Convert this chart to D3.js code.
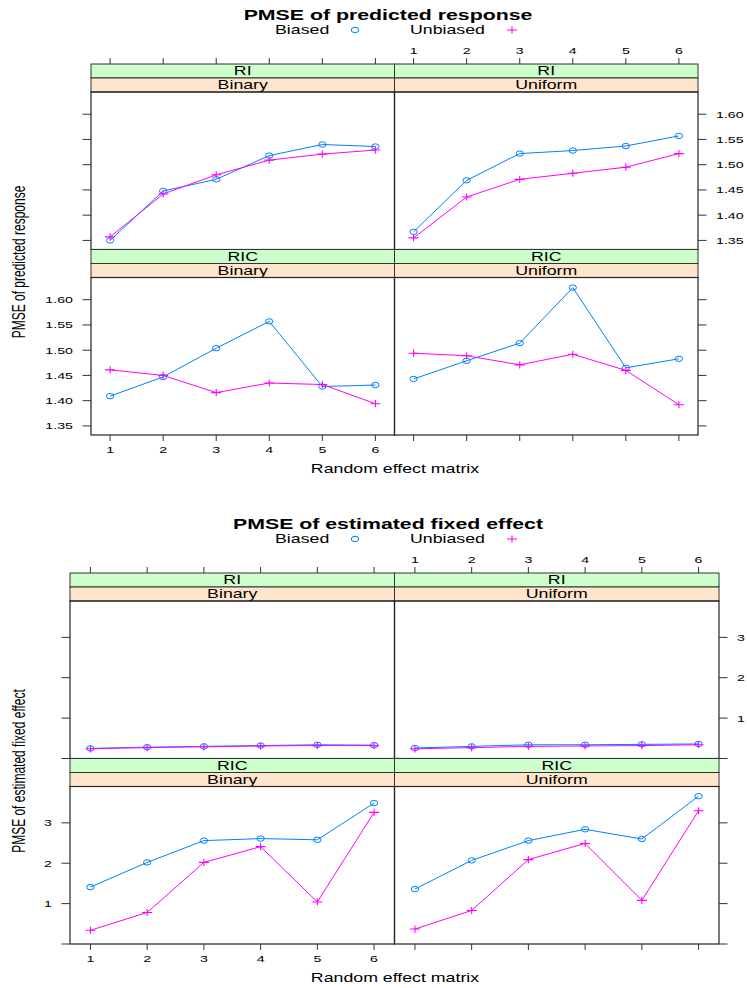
<!DOCTYPE html>
<html>
<head>
<meta charset="utf-8">
<script src="https://cdn.jsdelivr.net/npm/d3@7"></script>
<style>
  html, body { margin: 0; padding: 0; background: #fff; }
  svg { display: block; }
  text { font-family: "Liberation Sans", Arial, Helvetica, sans-serif; fill: #000; }
</style>
</head>
<body>
<svg id="chart" width="747" height="988"></svg>
<script>
// ---------- data ----------
const categories = [1, 2, 3, 4, 5, 6];
const seriesNames = ["Biased", "Unbiased"];
const outerLevels = ["RI", "RIC"];        // rows (top to bottom)
const innerLevels = ["Binary", "Uniform"]; // columns (left to right)

// PMSE of predicted response
const respRIBinaryBiased     = [1.350, 1.448, 1.471, 1.518, 1.540, 1.536];
const respRIBinaryUnbiased   = [1.357, 1.442, 1.480, 1.509, 1.521, 1.529];
const respRIUniformBiased    = [1.367, 1.469, 1.522, 1.528, 1.537, 1.557];
const respRIUniformUnbiased  = [1.355, 1.436, 1.471, 1.483, 1.495, 1.522];
const respRICBinaryBiased    = [1.409, 1.447, 1.504, 1.557, 1.428, 1.431];
const respRICBinaryUnbiased  = [1.461, 1.450, 1.416, 1.435, 1.432, 1.394];
const respRICUniformBiased   = [1.443, 1.479, 1.514, 1.624, 1.465, 1.483];
const respRICUniformUnbiased = [1.494, 1.489, 1.471, 1.492, 1.460, 1.392];
const respYTicks = [1.35, 1.40, 1.45, 1.50, 1.55, 1.60];
const respYTickLabels = ["1.35", "1.40", "1.45", "1.50", "1.55", "1.60"];

// PMSE of estimated fixed effect
const fixRIBinaryBiased     = [0.25, 0.28, 0.30, 0.32, 0.34, 0.33];
const fixRIBinaryUnbiased   = [0.24, 0.27, 0.29, 0.31, 0.32, 0.32];
const fixRIUniformBiased    = [0.26, 0.30, 0.34, 0.34, 0.35, 0.36];
const fixRIUniformUnbiased  = [0.24, 0.27, 0.30, 0.31, 0.32, 0.34];
const fixRICBinaryBiased    = [1.41, 2.02, 2.56, 2.61, 2.58, 3.49];
const fixRICBinaryUnbiased  = [0.34, 0.78, 2.02, 2.41, 1.04, 3.26];
const fixRICUniformBiased   = [1.36, 2.07, 2.56, 2.84, 2.60, 3.66];
const fixRICUniformUnbiased = [0.37, 0.83, 2.09, 2.49, 1.08, 3.30];
const fixYTicks = [0, 1, 2, 3];
const fixYTickLabels = ["", "1", "2", "3"];

const xTickLabels = ["1", "2", "3", "4", "5", "6"];

// ---------- drawing ----------
const SX = 1.48; // horizontal stretch of the glyphs, as in the reference
const colors = { Biased: "#0080ff", Unbiased: "#ff00ff" };
const svg = d3.select("#chart");

function txt(g, x, y, s, size, anchor, weight) {
  return g.append("text")
    .attr("transform", `translate(${x},${y}) scale(${SX},1)`)
    .attr("text-anchor", anchor || "middle")
    .attr("font-size", size)
    .attr("font-weight", weight || "normal")
    .text(s);
}

function drawMarker(g, name, x, y) {
  if (name === "Biased") {
    g.append("ellipse").attr("cx", x).attr("cy", y).attr("rx", 3.7).attr("ry", 2.7)
      .attr("fill", "none").attr("stroke", colors.Biased).attr("stroke-width", 1);
  } else {
    g.append("path").attr("d", `M${x - 5},${y}H${x + 5}M${x},${y - 3.6}V${y + 3.6}`)
      .attr("fill", "none").attr("stroke", colors.Unbiased).attr("stroke-width", 1.1);
  }
}

function drawChart(cfg) {
  const g = svg.append("g");
  const T = cfg.top, L = cfg.left, R = cfg.right, M = (L + R) / 2;
  const stripH = 14, panelH = 157.5;
  const cols = [[L, M], [M, R]];
  const rowGeom = outerLevels.map((_, r) => {
    const st = T + r * (2 * stripH + panelH);
    return { stripTop: st, pTop: st + 2 * stripH, pBot: st + 2 * stripH + panelH };
  });

  // title & legend
  txt(g, 388, T - 44, cfg.title, 14.4, "middle", "bold");
  txt(g, 275, T - 30, seriesNames[0], 12, "start");
  drawMarker(g, seriesNames[0], 355, T - 34);
  txt(g, 410, T - 30, seriesNames[1], 12, "start");
  drawMarker(g, seriesNames[1], 512, T - 34);

  outerLevels.forEach((outer, r) => {
    const rg = rowGeom[r];
    const y = d3.scaleLinear().domain(cfg.yDomain).range([rg.pBot, rg.pTop]);
    innerLevels.forEach((inner, c) => {
      const [cl, cr] = cols[c];
      const x = d3.scaleLinear().domain([0.64, 6.36]).range([cl, cr]);
      const cx = (cl + cr) / 2;
      // strips
      g.append("rect").attr("x", cl).attr("y", rg.stripTop).attr("width", cr - cl).attr("height", stripH)
        .attr("fill", "#ccffcc").attr("stroke", "#333").attr("stroke-width", 1);
      g.append("rect").attr("x", cl).attr("y", rg.stripTop + stripH).attr("width", cr - cl).attr("height", stripH)
        .attr("fill", "#ffe5cc").attr("stroke", "#333").attr("stroke-width", 1);
      txt(g, cx, rg.stripTop + 7 + 4.3, outer, 12);
      txt(g, cx, rg.stripTop + stripH + 7 + 4.3, inner, 12);
      // panel box
      g.append("rect").attr("x", cl).attr("y", rg.pTop).attr("width", cr - cl).attr("height", panelH)
        .attr("fill", "none").attr("stroke", "#222").attr("stroke-width", 1.2);

      // series
      const clipId = `clip-${cfg.id}-${r}-${c}`;
      g.append("clipPath").attr("id", clipId).append("rect")
        .attr("x", cl).attr("y", rg.pTop).attr("width", cr - cl).attr("height", panelH);
      const pg = g.append("g").attr("clip-path", `url(#${clipId})`);
      seriesNames.forEach(sn => {
        const vals = cfg.data[outer][inner][sn];
        const line = d3.line().x((d, i) => x(categories[i])).y(d => y(d));
        pg.append("path").attr("d", line(vals)).attr("fill", "none")
          .attr("stroke", colors[sn]).attr("stroke-width", 1);
        vals.forEach((v, i) => drawMarker(pg, sn, x(categories[i]), y(v)));
      });

      // top axis (ticks on both columns, labels on right column)
      if (r === 0) {
        categories.forEach((cv, i) => {
          g.append("line").attr("x1", x(cv)).attr("x2", x(cv))
            .attr("y1", rg.stripTop - 6).attr("y2", rg.stripTop).attr("stroke", "#333");
          if (c === 1) txt(g, x(cv), rg.stripTop - 10, xTickLabels[i], 9.6);
        });
      }
      // bottom axis (ticks on both, labels on left column)
      if (r === outerLevels.length - 1) {
        categories.forEach((cv, i) => {
          g.append("line").attr("x1", x(cv)).attr("x2", x(cv))
            .attr("y1", rg.pBot).attr("y2", rg.pBot + 6).attr("stroke", "#333");
          if (c === 0) txt(g, x(cv), rg.pBot + 18, xTickLabels[i], 9.6);
        });
      }
      // left axis
      if (c === 0) {
        cfg.yTicks.forEach((tv, i) => {
          g.append("line").attr("x1", cl - 8.5).attr("x2", cl).attr("y1", y(tv)).attr("y2", y(tv)).attr("stroke", "#333");
          if (r === 1 && cfg.yTickLabels[i]) txt(g, cl - 18, y(tv) + 3.4, cfg.yTickLabels[i], 9.6, "end");
        });
      }
      // right axis
      if (c === 1) {
        cfg.yTicks.forEach((tv, i) => {
          g.append("line").attr("x1", cr).attr("x2", cr + 8.5).attr("y1", y(tv)).attr("y2", y(tv)).attr("stroke", "#333");
          if (r === 0 && cfg.yTickLabels[i]) txt(g, cr + 18, y(tv) + 3.4, cfg.yTickLabels[i], 9.6, "start");
        });
      }
    });
  });

  // axis titles
  const bot = rowGeom[rowGeom.length - 1].pBot;
  txt(g, 395, bot + 38, "Random effect matrix", 12);
  g.append("text")
    .attr("transform", `translate(18.5,${T + 198}) rotate(-90) scale(1,${SX})`)
    .attr("text-anchor", "middle").attr("dominant-baseline", "central")
    .attr("font-size", 12).text(cfg.ylab);
}

drawChart({
  id: "resp", top: 64, left: 91, right: 698,
  title: "PMSE of predicted response", ylab: "PMSE of predicted response",
  yDomain: [1.332, 1.644], yTicks: respYTicks, yTickLabels: respYTickLabels,
  data: {
    RI:  { Binary:  { Biased: respRIBinaryBiased,  Unbiased: respRIBinaryUnbiased },
           Uniform: { Biased: respRIUniformBiased, Unbiased: respRIUniformUnbiased } },
    RIC: { Binary:  { Biased: respRICBinaryBiased,  Unbiased: respRICBinaryUnbiased },
           Uniform: { Biased: respRICUniformBiased, Unbiased: respRICUniformUnbiased } }
  }
});

drawChart({
  id: "fix", top: 573, left: 70, right: 719,
  title: "PMSE of estimated fixed effect", ylab: "PMSE of estimated fixed effect",
  yDomain: [0, 3.9], yTicks: fixYTicks, yTickLabels: fixYTickLabels,
  data: {
    RI:  { Binary:  { Biased: fixRIBinaryBiased,  Unbiased: fixRIBinaryUnbiased },
           Uniform: { Biased: fixRIUniformBiased, Unbiased: fixRIUniformUnbiased } },
    RIC: { Binary:  { Biased: fixRICBinaryBiased,  Unbiased: fixRICBinaryUnbiased },
           Uniform: { Biased: fixRICUniformBiased, Unbiased: fixRICUniformUnbiased } }
  }
});
</script>
</body>
</html>
